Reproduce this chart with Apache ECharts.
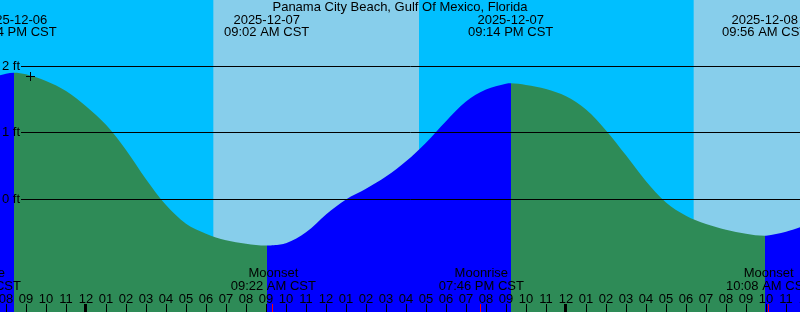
<!DOCTYPE html>
<html><head><meta charset="utf-8">
<script src="https://cdn.jsdelivr.net/npm/echarts@6/dist/echarts.min.js"></script>
<style>html,body{margin:0;padding:0;background:#00BFFF}#c{width:800px;height:312px}</style>
</head><body><div id="c"></div>
<script>
// ---- data (hours are counted from 2025-12-07 00:00 CST) ----
const chartTitle = 'Panama City Beach, Gulf Of Mexico, Florida';
const hours   = [-5, -4, -3, -2, -1, 0, 1, 2, 3, 4, 5, 6, 7, 8, 9, 10, 11, 12, 13, 14, 15, 16, 17, 18, 19, 20, 21, 22, 23, 24, 25, 26, 27, 28, 29, 30, 31, 32, 33, 34, 35, 36];
const heights = [1.80, 1.89, 1.88, 1.78, 1.63, 1.40, 1.12, 0.74, 0.30, -0.09, -0.37, -0.52, -0.62, -0.67, -0.70, -0.665, -0.50, -0.23, -0.005, 0.156, 0.34, 0.57, 0.85, 1.175, 1.47, 1.65, 1.74, 1.72, 1.66, 1.55, 1.35, 1.035, 0.66, 0.27, -0.05, -0.25, -0.375, -0.46, -0.52, -0.55, -0.49, -0.39];
const tideDates   = ['2025-12-06', '2025-12-07', '2025-12-07', '2025-12-08'];
const tideClocks  = ['08:24 PM CST', '09:02 AM CST', '09:14 PM CST', '09:56 AM CST'];
const tideHeights = [1.905, -0.70, 1.745, -0.551];
const moonNames  = ['Moonrise', 'Moonset', 'Moonrise', 'Moonset'];
const moonDates  = ['2025-12-06', '2025-12-07', '2025-12-07', '2025-12-08'];
const moonClocks = ['06:37 PM CST', '09:22 AM CST', '07:46 PM CST', '10:08 AM CST'];
const sunriseDates  = ['2025-12-07', '2025-12-08'];
const sunriseClocks = ['06:22 AM CST', '06:23 AM CST'];
const sunsetClocks  = ['04:39 PM CST', '04:40 PM CST'];
const depthLevels = [0, 1, 2];
const nowDate = '2025-12-06', nowClock = '09:12 PM CST', nowHeight = 1.86;
const axisStartHour = -6, axisEndHour = 36, depthMin = -1.7, depthMax = 3;

// ---- helpers ----
function toHours(date, clock) {
  const day = parseInt(date.slice(8, 10), 10) - 7;
  const m = clock.match(/(\d+):(\d+)\s*(AM|PM)/);
  let h = parseInt(m[1], 10) % 12;
  if (m[3] === 'PM') h += 12;
  return day * 24 + h + parseInt(m[2], 10) / 60;
}
const FAMILY = '"Liberation Sans", Arial, sans-serif';
const FONT = '13px ' + FAMILY;
const BLUE = '#0000FF', GREEN = '#2E8B57', DAY = '#87CEEB', NIGHT = '#00BFFF';

const tideTimes = tideDates.map((d, i) => toHours(d, tideClocks[i]));
const curve = hours.map((h, i) => [h, heights[i]])
  .concat(tideTimes.map((t, i) => [t, tideHeights[i]]))
  .sort((a, b) => a[0] - b[0]);
const n = tideTimes.length;
const isHigh = i => (i + 1 < n ? tideHeights[i] > tideHeights[i + 1] : tideHeights[i] > tideHeights[i - 1]);
const bounds = [axisStartHour].concat(tideTimes, [axisEndHour]);
const pieces = [];
for (let i = 0; i < bounds.length - 1; i++) {
  const rising = i < n ? isHigh(i) : !isHigh(n - 1);
  const p = { gte: bounds[i], color: rising ? BLUE : GREEN };
  if (i === bounds.length - 2) p.lte = bounds[i + 1]; else p.lt = bounds[i + 1];
  pieces.push(p);
}
const dayBands = sunriseDates.map((d, i) => [toHours(d, sunriseClocks[i]), toHours(d, sunsetClocks[i])]);
const moonTimes = moonDates.map((d, i) => toHours(d, moonClocks[i]));
const midnights = [];
for (let h = axisStartHour; h <= axisEndHour; h++) if (h % 24 === 0) midnights.push(h);

const chart = echarts.init(document.getElementById('c'), null, { renderer: 'canvas' });
chart.setOption({
  animation: false,
  backgroundColor: NIGHT,
  title: {
    text: chartTitle, left: 'center', top: 1, padding: 0, z: 10,
    textStyle: { fontSize: 13, fontWeight: 'normal', color: '#000', fontFamily: FAMILY }
  },
  grid: { left: -34, right: -6, top: 0, bottom: 0, outerBoundsMode: 'none', containLabel: false },
  xAxis: {
    type: 'value', min: axisStartHour, max: axisEndHour, interval: 1, z: 10,
    axisLine: { show: false, onZero: false }, splitLine: { show: false },
    axisTick: { show: true, inside: true, length: 8, lineStyle: { color: '#000', width: 1 } },
    axisLabel: {
      show: true, inside: true, margin: 13, verticalAlign: 'middle', color: '#000',
      fontSize: 13, fontFamily: FAMILY,
      formatter: v => { const h = ((Math.round(v) % 24) + 24) % 24; const h12 = h % 12 === 0 ? 12 : h % 12; return String(h12).padStart(2, '0'); }
    }
  },
  yAxis: { type: 'value', min: depthMin, max: depthMax, show: false, splitLine: { show: false } },
  visualMap: { show: false, type: 'piecewise', dimension: 0, seriesIndex: 1, pieces: pieces },
  series: [
    { // daylight bands
      type: 'custom', silent: true, z: 1,
      data: dayBands,
      encode: { x: [0, 1] },
      renderItem: (params, api) => {
        const a = api.coord([api.value(0), 0]), b = api.coord([api.value(1), 0]);
        const cs = params.coordSys;
        return { type: 'rect', shape: { x: a[0], y: cs.y, width: b[0] - a[0], height: cs.height }, style: { fill: DAY } };
      }
    },
    { // tide curve
      type: 'line', z: 2, data: curve, smooth: 0.33, showSymbol: false, silent: true,
      lineStyle: { width: 0 }, areaStyle: { opacity: 1, origin: 'start' }
    },
    { // depth lines + labels
      type: 'custom', z: 3, silent: true,
      data: depthLevels.map(v => [0, v]),
      renderItem: (params, api) => {
        const y = Math.floor(api.coord([0, api.value(1)])[1]) + 0.5;
        return { type: 'group', children: [
          { type: 'line', shape: { x1: 21, y1: y, x2: 800, y2: y }, style: { stroke: '#000', lineWidth: 1 } },
          { type: 'text', x: 20, y: y, style: { text: api.value(1) + ' ft', font: FONT, fill: '#000', align: 'right', verticalAlign: 'middle' } }
        ] };
      }
    },
    { // midnight thick ticks
      type: 'custom', z: 3, silent: true,
      data: midnights.map(h => [h, depthMin]),
      renderItem: (params, api) => {
        const c = api.coord([api.value(0), depthMin]);
        return { type: 'rect', shape: { x: Math.round(c[0]) - 2, y: c[1] - 8, width: 3, height: 8 }, style: { fill: '#000' } };
      }
    },
    { // moon event ticks + labels
      type: 'custom', z: 3, silent: true,
      data: moonTimes.map((t, i) => [t, depthMin, i]),
      renderItem: (params, api) => {
        const c = api.coord([api.value(0), depthMin]);
        const i = api.value(2);
        return { type: 'group', children: [
          { type: 'rect', shape: { x: Math.round(c[0]) - 1, y: c[1] - 8, width: 1, height: 8 }, style: { fill: '#FF0000' } },
          { type: 'text', x: c[0], y: 280, style: { text: moonNames[i] + '\n' + moonClocks[i], font: FONT, fill: '#000', align: 'center', verticalAlign: 'middle', lineHeight: 12.7 } }
        ] };
      }
    },
    { // tide event labels
      type: 'custom', z: 3, silent: true,
      data: tideTimes.map((t, i) => [t, tideHeights[i], i]),
      renderItem: (params, api) => {
        const c = api.coord([api.value(0), api.value(1)]);
        const i = api.value(2);
        return { type: 'text', x: c[0], y: 26.5, style: { text: tideDates[i] + '\n' + tideClocks[i], font: FONT, fill: '#000', align: 'center', verticalAlign: 'middle', lineHeight: 12 } };
      }
    },
    { // "now" marker
      type: 'custom', z: 4, silent: true,
      data: [[toHours(nowDate, nowClock), nowHeight]],
      renderItem: (params, api) => {
        const c = api.coord([api.value(0), api.value(1)]);
        const cx = Math.round(c[0]) + 0.5, cy = Math.round(c[1]) + 0.5;
        return { type: 'group', children: [
          { type: 'line', shape: { x1: cx - 4.5, y1: cy, x2: cx + 4.5, y2: cy }, style: { stroke: '#000', lineWidth: 1 } },
          { type: 'line', shape: { x1: cx, y1: cy - 4.5, x2: cx, y2: cy + 4.5 }, style: { stroke: '#000', lineWidth: 1 } }
        ] };
      }
    }
  ]
});
</script></body></html>
